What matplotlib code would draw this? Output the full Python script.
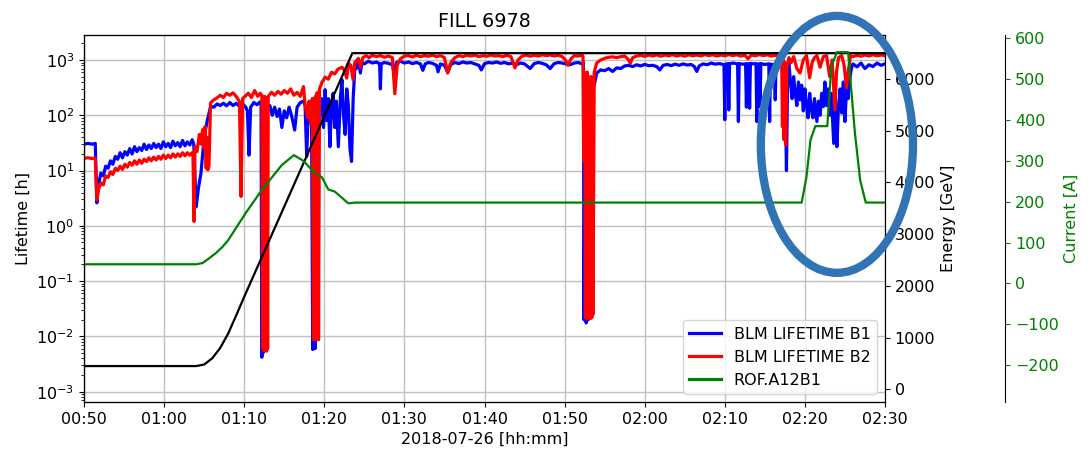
import matplotlib
matplotlib.use("Agg")
import matplotlib.pyplot as plt
import matplotlib.dates as mdates
from matplotlib.patches import Ellipse
import numpy as np
import pandas as pd

plt.rcParams['font.size'] = 11.5

START = pd.Timestamp('2018-07-26 00:50')

# BLM lifetime beam 1: minutes after START, lifetime in hours
t_b1 = [0.0, 0.5, 1.0, 1.4, 1.6, 1.8, 2.1, 2.4, 2.7, 3.0,
        3.3, 3.6, 3.9, 4.2, 4.5, 4.8, 5.1, 5.4, 5.7, 6.0,
        6.3, 6.6, 6.9, 7.2, 7.5, 7.8, 8.1, 8.4, 8.7, 9.0,
        9.3, 9.6, 9.9, 10.2, 10.5, 10.8, 11.1, 11.4, 11.7, 12.0,
        12.3, 12.6, 12.9, 13.2, 13.5, 13.7, 14.0, 14.3, 14.6, 15.0,
        15.4, 15.8, 16.2, 16.6, 17.0, 17.4, 17.8, 18.2, 18.6, 19.0,
        19.4, 19.8, 20.2, 20.4, 20.6, 20.8, 21.2, 21.6, 22.0, 22.1,
        22.2, 22.28, 22.35, 22.5, 22.9, 23.2, 23.5, 23.8, 24.1, 24.4,
        24.7, 25.0, 25.3, 25.6, 25.9, 26.3, 26.6, 27.0, 27.4, 27.6,
        27.8, 28.0, 28.2, 28.4, 28.55, 28.7, 28.85, 29.0, 29.4, 29.67,
        29.9, 30.1, 30.3, 30.5, 30.7, 30.9, 31.1, 31.3, 31.5, 31.75,
        32.0, 32.2, 32.4, 32.6, 32.8, 33.0, 33.2, 33.4, 33.6, 33.83,
        34.0, 34.25, 34.5, 34.7, 35.0, 35.5, 36.0, 36.5, 36.9, 37.0,
        37.1, 37.5, 38.0, 38.5, 38.7, 39.0, 39.5, 40.0, 40.5, 41.0,
        41.5, 42.0, 42.3, 42.6, 43.0, 43.5, 44.0, 44.2, 44.5, 45.0,
        45.4, 45.8, 46.3, 46.8, 47.3, 47.8, 48.3, 48.8, 49.3, 49.6,
        50.0, 50.5, 51.0, 51.5, 52.0, 52.5, 53.0, 53.5, 54.0, 54.5,
        55.0, 55.7, 56.2, 56.7, 57.2, 57.7, 58.2, 58.7, 59.2, 59.7,
        60.2, 60.7, 61.2, 61.7, 62.2, 62.35, 62.42, 62.55, 62.7, 62.85,
        62.95, 63.6, 64.0, 64.5, 65.0, 65.5, 66.0, 66.5, 67.0, 67.5,
        68.0, 68.5, 69.0, 69.5, 70.0, 70.5, 71.0, 71.5, 71.9, 72.3,
        72.8, 73.3, 73.8, 74.3, 74.8, 75.3, 75.8, 76.2, 76.5, 76.8,
        77.3, 77.8, 78.3, 78.8, 79.3, 79.8, 79.9, 80.0, 80.1, 80.4,
        80.5, 80.6, 81.0, 81.6, 81.7, 81.8, 82.2, 82.6, 82.7, 82.8,
        83.0, 83.1, 83.2, 83.6, 83.9, 84.0, 84.1, 84.3, 84.4, 84.5,
        85.0, 85.5, 85.6, 85.7, 86.2, 86.3, 86.4, 86.8, 87.2, 87.5,
        87.7, 87.85, 88.0, 88.2, 88.4, 88.6, 88.8, 89.0, 89.2, 89.4,
        89.6, 89.8, 90.0, 90.2, 90.4, 90.6, 90.8, 91.0, 91.2, 91.5,
        91.7, 91.9, 92.1, 92.3, 92.5, 92.7, 92.9, 93.1, 93.3, 93.6,
        93.8, 94.0, 94.2, 94.4, 94.6, 94.8, 95.0, 95.2, 95.4, 95.6,
        95.8, 96.0, 96.5, 97.0, 97.5, 98.0, 98.5, 99.0, 99.5, 100.0]
life_b1 = [30, 31, 30, 31, 2.6, 5.5, 9, 8, 12, 11,
           15, 13, 18, 16, 21, 17, 22, 19, 25, 20,
           27, 22, 26, 23, 30, 24, 29, 25, 31, 26,
           30, 25, 33, 27, 31, 26, 34, 28, 32, 27,
           35, 28, 33, 29, 36, 30, 2.2, 5, 9, 41,
           82, 143, 140, 160, 150, 165, 148, 170, 150, 165,
           145, 160, 140, 120, 19, 140, 170, 155, 175, 160,
           0.0042, 100, 0.005, 120, 130, 150, 100, 140, 95, 130,
           60, 120, 90, 140, 100, 54, 140, 170, 180, 150,
           18, 130, 160, 120, 0.0058, 80, 0.006, 90, 100, 200,
           60, 290, 80, 200, 27, 150, 250, 60, 180, 27,
           200, 440, 100, 45, 300, 150, 25, 14.6, 200, 800,
           700, 1000, 580, 900, 850, 950, 880, 920, 850, 300,
           850, 900, 870, 820, 600, 900, 950, 880, 920, 860,
           900, 850, 650, 850, 900, 870, 800, 610, 850, 800,
           600, 830, 900, 860, 920, 880, 900, 850, 800, 660,
           860, 900, 880, 920, 870, 900, 850, 880, 820, 880,
           850, 700, 860, 900, 870, 820, 700, 860, 900, 880,
           850, 820, 880, 900, 850, 900, 0.02, 30, 0.0175, 36,
           0.02, 290, 580, 660, 640, 700, 620, 720, 700, 780,
           800, 760, 820, 780, 830, 790, 800, 760, 660, 800,
           830, 790, 840, 800, 850, 810, 830, 760, 620, 780,
           850, 820, 880, 840, 860, 830, 830, 83, 840, 860,
           125, 850, 880, 850, 77, 860, 840, 850, 140, 860,
           840, 134, 870, 850, 860, 77, 840, 850, 143, 860,
           830, 850, 77, 840, 820, 190, 830, 800, 850, 700,
           10, 600, 900, 400, 200, 500, 250, 150, 400, 190,
           350, 120, 300, 150, 90, 250, 130, 90, 200, 77,
           180, 100, 250, 143, 400, 150, 300, 100, 250, 31,
           200, 27, 150, 300, 110, 400, 77, 300, 200, 440,
           700, 850, 750, 880, 700, 820, 760, 880, 800, 850]

# BLM lifetime beam 2
t_b2 = [0.0, 0.5, 1.0, 1.4, 1.6, 1.8, 2.1, 2.4, 2.7, 3.0,
        3.3, 3.6, 3.9, 4.2, 4.5, 4.8, 5.1, 5.4, 5.7, 6.0,
        6.3, 6.6, 6.9, 7.2, 7.5, 7.8, 8.1, 8.4, 8.7, 9.0,
        9.3, 9.6, 9.9, 10.2, 10.5, 10.8, 11.1, 11.4, 11.7, 12.0,
        12.3, 12.6, 12.9, 13.2, 13.5, 13.6, 13.73, 13.85, 14.1, 14.4,
        14.6, 14.8, 15.0, 15.1, 15.25, 15.35, 15.45, 15.6, 15.8, 16.2,
        16.6, 17.0, 17.4, 17.8, 18.2, 18.6, 19.0, 19.4, 19.6, 19.8,
        20.1, 20.5, 20.9, 21.3, 21.7, 22.0, 22.2, 22.3, 22.38, 22.46,
        22.54, 22.62, 22.7, 22.78, 22.86, 22.92, 23.0, 23.4, 23.8, 24.2,
        24.6, 25.0, 25.4, 25.8, 26.2, 26.6, 27.0, 27.4, 27.6, 27.9,
        28.1, 28.3, 28.5, 28.65, 28.73, 28.81, 28.89, 28.97, 29.05, 29.13,
        29.21, 29.28, 29.4, 29.7, 30.1, 30.5, 30.9, 31.3, 31.7, 32.2,
        32.5, 32.8, 33.0, 33.3, 33.6, 33.8, 34.25, 34.5, 34.8, 35.2,
        35.6, 36.0, 36.5, 37.0, 37.5, 38.0, 38.5, 38.8, 39.1, 39.5,
        40.0, 40.5, 41.0, 41.5, 42.0, 42.5, 43.0, 43.5, 44.0, 44.5,
        45.0, 45.4, 45.8, 46.3, 46.8, 47.3, 47.8, 48.3, 48.8, 49.3,
        49.8, 50.3, 50.8, 51.3, 51.8, 52.3, 52.8, 53.3, 53.8, 54.2,
        54.7, 55.2, 55.7, 56.2, 56.7, 57.2, 57.7, 58.2, 58.7, 59.2,
        59.7, 60.1, 60.4, 60.8, 61.2, 61.7, 62.2, 62.3, 62.38, 62.5,
        62.6, 62.68, 62.76, 62.84, 62.92, 63.0, 63.08, 63.16, 63.24, 63.32,
        63.4, 63.48, 63.55, 63.7, 64.0, 64.5, 65.0, 65.5, 66.0, 66.5,
        67.0, 67.5, 68.0, 68.2, 68.5, 69.0, 69.5, 70.0, 70.5, 71.0,
        71.5, 72.0, 72.5, 73.0, 73.5, 74.0, 74.5, 75.0, 75.5, 76.0,
        76.5, 77.0, 77.5, 78.0, 78.5, 79.0, 79.5, 80.0, 80.5, 81.0,
        81.5, 82.0, 82.5, 82.9, 83.3, 83.8, 84.3, 84.8, 85.3, 85.8,
        86.3, 86.8, 87.1, 87.2, 87.3, 87.4, 87.5, 87.6, 87.75, 88.0,
        88.3, 88.6, 89.0, 89.4, 89.8, 90.2, 90.6, 90.9, 91.2, 91.5,
        91.9, 92.3, 92.7, 93.1, 93.4, 93.75, 93.95, 94.2, 94.6, 94.9,
        95.2, 95.4, 95.7, 96.0, 96.5, 97.0, 97.5, 98.0, 98.5, 99.0,
        99.5, 100.0]
life_b2 = [16.7, 17, 16.5, 17, 2.95, 4.5, 6, 5.5, 8, 7.5,
           9.5, 8.5, 11, 10, 12, 10.5, 13, 11.5, 14, 12.5,
           15, 13, 15.5, 13.5, 16, 14.5, 17, 15, 17.5, 15.5,
           18, 16, 19, 16.5, 19, 17, 20, 17.5, 20, 18,
           21, 18.5, 21, 19, 21, 20, 1.2, 27, 22, 45,
           30, 55, 25, 62, 11, 40, 10.3, 12, 167, 190,
           206, 230, 210, 250, 230, 255, 219, 178, 3.4, 200,
           220, 250, 210, 280, 220, 250, 230, 0.006, 200, 0.0055,
           220, 0.0058, 200, 0.0054, 210, 0.006, 220, 260, 230, 270,
           240, 280, 250, 300, 230, 260, 220, 330, 150, 90,
           180, 70, 200, 0.0087, 200, 0.009, 220, 0.0088, 250, 0.009,
           260, 0.0087, 300, 390, 490, 450, 600, 560, 680, 740,
           650, 470, 870, 800, 436, 900, 1070, 740, 1100, 1200,
           1100, 1220, 1150, 1200, 1120, 1180, 1100, 245, 800, 1050,
           1180, 1200, 1130, 1220, 1150, 1200, 1170, 1230, 1150, 1200,
           1100, 580, 900, 1100, 1200, 1150, 1220, 1180, 1230, 1150,
           1200, 1170, 1230, 1180, 1200, 1150, 1220, 1150, 720, 1000,
           1180, 1230, 1170, 1220, 1180, 1240, 1200, 1230, 1180, 1220,
           1150, 1000, 800, 1050, 1200, 1180, 1220, 1150, 14.5, 600,
           0.022, 500, 0.021, 600, 0.0214, 500, 0.022, 400, 0.021, 500,
           0.022, 400, 0.025, 600, 880, 1000, 1070, 1120, 1140, 1100,
           1150, 1180, 1000, 870, 1100, 1180, 1220, 1160, 1230, 1180,
           1240, 1170, 1230, 1190, 1250, 1180, 1230, 1170, 1240, 1190,
           1230, 1180, 1250, 1200, 1240, 1180, 1230, 1190, 1250, 1200,
           1240, 1180, 1220, 1050, 1230, 1190, 1250, 1200, 1240, 1180,
           1220, 1150, 1100, 62, 1000, 36, 900, 29, 700, 1100,
           900, 1150, 700, 580, 1000, 1200, 475, 900, 1100, 1200,
           740, 1150, 1200, 500, 1000, 125, 600, 1100, 1200, 800,
           315, 600, 1200, 1150, 1220, 1170, 1230, 1180, 1240, 1190,
           1230, 1200]

# beam energy [GeV]
t_energy = [0.0, 14.0, 15.0, 16.0, 17.0, 18.0, 19.0, 20.0, 33.5, 100.0]
energy = [450, 450, 480, 600, 800, 1080, 1430, 1790, 6500, 6500]

# octupole circuit current ROF.A12B1 [A]
t_rof = [0.0, 14.0, 14.8, 15.5, 16.5, 17.3, 18.0, 20.1, 22.2, 24.7,
         26.2, 27.4, 28.8, 29.7, 30.5, 31.3, 33.0, 33.8, 89.6, 90.2,
         90.7, 91.3, 92.8, 93.3, 94.0, 95.4, 96.25, 96.9, 97.6, 100.0]
rof_current = [47, 47, 50, 60, 75, 90, 106, 170, 229, 290,
               314, 300, 270, 260, 230, 225, 196, 198, 198, 261,
               351, 385, 385, 531, 566, 566, 368, 253, 198, 198]


def to_time(minutes):
    return START + pd.to_timedelta(np.asarray(minutes, dtype=float), unit='min')


fig = plt.figure(figsize=(10.9, 4.54), dpi=100)
ax = fig.add_axes([0.0771, 0.1145, 0.7348, 0.8084])
ax2 = ax.twinx()
ax3 = ax.twinx()

l1, = ax.plot(to_time(t_b1), life_b1, color='blue', lw=2.3, label='BLM LIFETIME B1')
l2, = ax.plot(to_time(t_b2), life_b2, color='red', lw=2.3, label='BLM LIFETIME B2')
ax.set_yscale('log')
ax.set_ylim(6.5e-4, 2.83e3)
ax.set_xlim(START, START + pd.Timedelta(minutes=100))
ax.set_ylabel('Lifetime [h]')
ax.set_xlabel('2018-07-26 [hh:mm]')
ax.set_title('FILL 6978')
ax.grid(True, which='major', color='#c0c0c0', lw=1)
ax.xaxis.set_major_locator(mdates.MinuteLocator(byminute=range(0, 60, 10)))
ax.xaxis.set_major_formatter(mdates.DateFormatter('%H:%M'))

ax2.plot(to_time(t_energy), energy, color='black', lw=1.6)
ax2.set_ylim(-245, 6851)
ax2.set_yticks(range(0, 7000, 1000))
ax2.set_ylabel('Energy [GeV]')

l3, = ax3.plot(to_time(t_rof), rof_current, color='green', lw=1.6, label='ROF.A12B1')
ax3.spines['right'].set_position(('axes', 1.15))
ax3.set_ylim(-290, 608)
ax3.set_yticks(range(-200, 700, 100))
ax3.tick_params(axis='y', colors='green')
ax3.set_ylabel('Current [A]', color='green')

leg = ax3.legend([l1, l2, l3], [l.get_label() for l in (l1, l2, l3)], loc='lower right')
for line in leg.get_lines():
    line.set_linewidth(2.3)

# highlight of the octupole trim at the end of the fill
fig.add_artist(Ellipse((0.94, 0.702), 0.19, 0.70, transform=ax.transAxes,
                       fill=False, edgecolor='#3174b5', lw=6, zorder=10))

fig.savefig('out.png', dpi=100)
